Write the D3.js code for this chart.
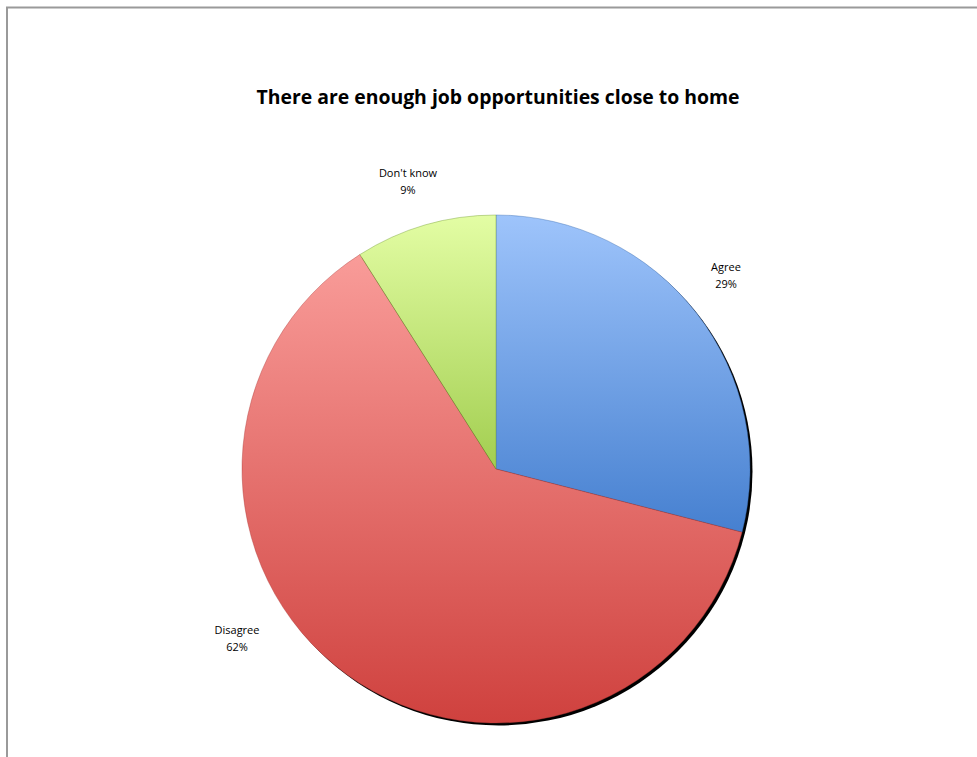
<!DOCTYPE html>
<html>
<head>
<meta charset="utf-8">
<script src="https://cdn.jsdelivr.net/npm/d3@7"></script>
<style>
  html, body { margin: 0; padding: 0; background: #fff; }
  svg { display: block; }
</style>
</head>
<body>
<script>
// Survey answers for the statement in the title
const categories = ["Agree", "Disagree", "Don't know"];
const shares = [29, 62, 9];
const topColors = ["#9ec4fb", "#f99c99", "#e3fda4"];
const bottomColors = ["#4680d0", "#cf413e", "#a2ce50"];
const edgeColors = ["#3a6cb0", "#b03a37", "#6f9a30"];
const title = "There are enough job opportunities close to home";

const W = 977, H = 757;
const cx = 496, cy = 469, R = 254;

const svg = d3.select("body").append("svg")
  .attr("width", W).attr("height", H);

// Chart area frame
svg.append("rect")
  .attr("x", 7).attr("y", 7.5)
  .attr("width", W + 10).attr("height", H + 10)
  .attr("fill", "none")
  .attr("stroke", "#9a9a9a")
  .attr("stroke-width", 2);

svg.append("text")
  .attr("x", 498).attr("y", 104)
  .attr("text-anchor", "middle")
  .attr("font-family", "'Open Sans', 'Liberation Sans', sans-serif")
  .attr("font-weight", "bold")
  .attr("font-size", 19.4)
  .attr("fill", "#000")
  .text(title);

const defs = svg.append("defs");
categories.forEach((c, i) => {
  const g = defs.append("linearGradient")
    .attr("id", "grad" + i)
    .attr("x1", 0).attr("y1", 0).attr("x2", 0).attr("y2", 1);
  g.append("stop").attr("offset", "0%").attr("stop-color", topColors[i]);
  g.append("stop").attr("offset", "100%").attr("stop-color", bottomColors[i]);
});

const pie = d3.pie().sort(null).value(d => d.value);
const data = categories.map((c, i) => ({ name: c, value: shares[i], i }));
const arcs = pie(data);
const arc = d3.arc().innerRadius(0).outerRadius(R);

const root = svg.append("g").attr("transform", `translate(${cx},${cy})`);

// Drop shadow behind the pie
root.append("circle")
  .attr("cx", 2.5).attr("cy", 2.5).attr("r", R)
  .attr("fill", "#000");

root.selectAll("path.slice")
  .data(arcs)
  .join("path")
  .attr("class", "slice")
  .attr("d", arc)
  .attr("fill", d => `url(#grad${d.data.i})`)
  .attr("stroke", d => edgeColors[d.data.i])
  .attr("stroke-width", 0.6)
  .attr("stroke-opacity", 0.7);

// Category labels with percentages
const labelPos = [
  { x: 726, y: 271 },
  { x: 237, y: 634 },
  { x: 408, y: 177 }
];
const labels = svg.append("g")
  .attr("font-family", "'Open Sans', 'Liberation Sans', sans-serif")
  .attr("font-size", 11)
  .attr("fill", "#000")
  .attr("text-anchor", "middle");

arcs.forEach(d => {
  const p = labelPos[d.data.i];
  const t = labels.append("text").attr("x", p.x).attr("y", p.y);
  t.append("tspan").attr("x", p.x).text(d.data.name);
  t.append("tspan").attr("x", p.x).attr("dy", 16.5)
    .text(Math.round(d.data.value) + "%");
});
</script>
</body>
</html>
